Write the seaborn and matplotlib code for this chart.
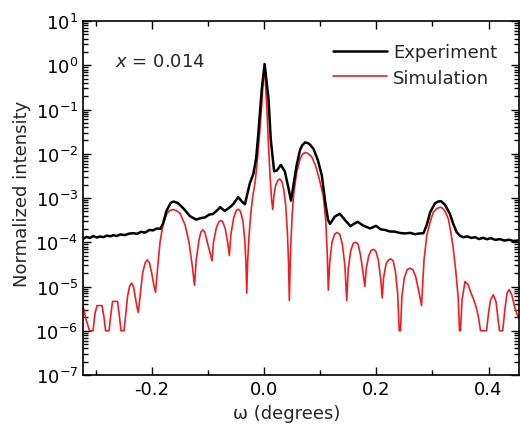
import numpy as np
import seaborn as sns
from matplotlib import pyplot as plt
from matplotlib.ticker import LogLocator, MultipleLocator, NullFormatter

# experiment (black)
exp_omega = [
    -0.322, -0.316, -0.310, -0.304, -0.298, -0.292, -0.286, -0.280, -0.274, -0.268,
    -0.263, -0.256, -0.248, -0.241, -0.233, -0.226, -0.219, -0.212, -0.204, -0.198,
    -0.191, -0.185, -0.180, -0.174, -0.167, -0.164, -0.161, -0.157, -0.153, -0.144,
    -0.132, -0.121, -0.113, -0.105, -0.098, -0.091, -0.084, -0.078, -0.070, -0.062,
    -0.055, -0.046, -0.040, -0.034, -0.030, -0.025, -0.019, -0.014, -0.010, -0.004,
    0.001, 0.004, 0.008, 0.012, 0.018, 0.023, 0.030, 0.037, 0.043, 0.048,
    0.052, 0.058, 0.064, 0.068, 0.073, 0.078, 0.082, 0.088, 0.096, 0.103,
    0.109, 0.114, 0.1175, 0.126, 0.135, 0.144, 0.154, 0.160, 0.167, 0.176,
    0.189, 0.1995, 0.208, 0.2155, 0.224, 0.233, 0.242, 0.251, 0.260, 0.269,
    0.277, 0.284, 0.290, 0.296, 0.3045, 0.310, 0.315, 0.322, 0.331, 0.337,
    0.343, 0.349, 0.355, 0.362, 0.369, 0.376, 0.383, 0.390, 0.397, 0.404,
    0.412, 0.420, 0.428, 0.436, 0.444, 0.454,
]
exp_intensity = [
    1.20e-4, 1.32e-4, 1.25e-4, 1.38e-4, 1.28e-4, 1.35e-4, 1.30e-4, 1.42e-4, 1.36e-4, 1.45e-4,
    1.38e-4, 1.50e-4, 1.45e-4, 1.56e-4, 1.60e-4, 1.55e-4, 1.72e-4, 1.65e-4, 1.90e-4, 1.85e-4,
    2.05e-4, 2.00e-4, 2.6e-4, 5.0e-4, 7.5e-4, 8.1e-4, 8.3e-4, 8.0e-4, 7.6e-4, 5.9e-4,
    3.9e-4, 3.25e-4, 3.5e-4, 3.65e-4, 4.2e-4, 4.35e-4, 5.2e-4, 6.2e-4, 5.1e-4, 6.0e-4,
    7.2e-4, 1.05e-3, 8.5e-4, 7.2e-4, 1.2e-3, 2.2e-3, 3.5e-3, 8.0e-3, 3.0e-2, 2.9e-1,
    1.07, 5.0e-1, 1.7e-1, 2.1e-2, 4.0e-3, 4.2e-3, 5.6e-3, 4.0e-3, 1.8e-3, 8.7e-4,
    1.8e-3, 5.4e-3, 1.2e-2, 1.55e-2, 1.8e-2, 1.75e-2, 1.6e-2, 1.3e-2, 7.1e-3, 3.2e-3,
    8.0e-4, 3.2e-4, 2.6e-4, 3.8e-4, 4.4e-4, 3.2e-4, 2.3e-4, 2.6e-4, 2.9e-4, 2.4e-4,
    2.05e-4, 2.35e-4, 1.95e-4, 1.9e-4, 1.75e-4, 1.74e-4, 1.62e-4, 1.58e-4, 1.63e-4, 1.52e-4,
    1.58e-4, 1.6e-4, 2.5e-4, 4.8e-4, 7.6e-4, 8.3e-4, 8.5e-4, 7.1e-4, 4.4e-4, 2.6e-4,
    1.7e-4, 1.4e-4, 1.3e-4, 1.36e-4, 1.25e-4, 1.30e-4, 1.18e-4, 1.26e-4, 1.17e-4, 1.24e-4,
    1.13e-4, 1.18e-4, 1.09e-4, 1.14e-4, 1.07e-4, 1.10e-4,
]

# simulation (red)
sim_omega = [
    -0.3224, -0.3170, -0.3108, -0.3045, -0.3010, -0.2974, -0.2885, -0.2849,
    -0.2823, -0.2760, -0.2725, -0.2698, -0.2609, -0.2573, -0.2547, -0.2493,
    -0.2466, -0.2430, -0.2395, -0.2360, -0.2325, -0.2295, -0.2262, -0.2239,
    -0.2208, -0.2162, -0.2118, -0.2080, -0.2040, -0.2000, -0.1958, -0.1932,
    -0.1897, -0.1852, -0.1799, -0.1728, -0.1680, -0.1621, -0.1560, -0.1496,
    -0.1407, -0.1336, -0.1282, -0.1238, -0.1207, -0.1160, -0.1125, -0.1090,
    -0.1055, -0.1010, -0.0957, -0.0926, -0.0900, -0.0850, -0.0805, -0.0770,
    -0.0735, -0.0690, -0.0645, -0.0618, -0.0590, -0.0540, -0.0495, -0.0458,
    -0.0420, -0.0375, -0.0340, -0.0322, -0.0308, -0.0290, -0.0265, -0.0235,
    -0.0200, -0.0160, -0.0130, -0.0102, -0.0070, -0.0041, -0.0015, 0.0005,
    0.0025, 0.0048, 0.0077, 0.0107, 0.0135, 0.0155, 0.0175, 0.0205,
    0.0245, 0.0280, 0.0315, 0.0350, 0.0385, 0.0415, 0.0435, 0.0451,
    0.0470, 0.0500, 0.0530, 0.0582, 0.0641, 0.0690, 0.0740, 0.0790,
    0.0850, 0.0920, 0.0990, 0.1056, 0.1100, 0.1125, 0.1145, 0.1170,
    0.1210, 0.1260, 0.1305, 0.1350, 0.1395, 0.1440, 0.1473, 0.1500,
    0.1545, 0.1590, 0.1630, 0.1675, 0.1720, 0.1770, 0.1795, 0.1820,
    0.1865, 0.1910, 0.1950, 0.1990, 0.2035, 0.2080, 0.2105, 0.2130,
    0.2175, 0.2220, 0.2258, 0.2300, 0.2340, 0.2380, 0.2408, 0.2431,
    0.2455, 0.2500, 0.2550, 0.2600, 0.2650, 0.2700, 0.2755, 0.2805,
    0.2850, 0.2898, 0.2956, 0.3015, 0.3080, 0.3143, 0.3185, 0.3223,
    0.3282, 0.3330, 0.3371, 0.3419, 0.3460, 0.3481, 0.3499, 0.3526,
    0.3580, 0.3633, 0.3687, 0.3731, 0.3776, 0.3820, 0.3856, 0.3963,
    0.3998, 0.4034, 0.4084, 0.4132, 0.4168, 0.4194, 0.4251, 0.4292,
    0.4328, 0.4367, 0.4416, 0.4469, 0.4528,
]
sim_intensity = [
    3.6e-6, 1.8e-6, 1.0e-6, 1.0e-6, 2.5e-6, 3.7e-6, 3.7e-6, 2.0e-6,
    1.0e-6, 1.0e-6, 2.5e-6, 4.6e-6, 4.6e-6, 2.0e-6, 1.0e-6, 1.0e-6,
    2.2e-6, 6.0e-6, 1.0e-5, 1.2e-5, 1.0e-5, 6.0e-6, 3.4e-6, 2.6e-6,
    6.0e-6, 2.0e-5, 3.4e-5, 4.0e-5, 3.4e-5, 2.0e-5, 1.0e-5, 7.4e-6,
    2.5e-5, 1.0e-4, 2.5e-4, 4.5e-4, 5.2e-4, 5.5e-4, 5.2e-4, 4.5e-4,
    2.5e-4, 1.0e-4, 3.2e-5, 1.07e-5, 4.0e-5, 1.1e-4, 1.7e-4, 1.9e-4,
    1.7e-4, 1.0e-4, 5.5e-5, 3.8e-5, 1.0e-4, 2.1e-4, 2.9e-4, 3.1e-4,
    2.9e-4, 2.0e-4, 9.5e-5, 5.0e-5, 1.5e-4, 3.6e-4, 5.2e-4, 5.6e-4,
    5.0e-4, 3.0e-4, 1.0e-4, 3.5e-5, 7.1e-6, 4.0e-5, 1.5e-4, 4.5e-4,
    1.1e-3, 2.2e-3, 5.0e-3, 1.26e-2, 4.0e-2, 0.123, 0.45, 0.76,
    0.40, 0.123, 1.8e-2, 3.2e-3, 9.0e-4, 5.5e-4, 1.1e-3, 1.9e-3,
    2.5e-3, 2.7e-3, 2.4e-3, 1.6e-3, 7.0e-4, 1.8e-4, 4.0e-5, 4.8e-6,
    5.0e-5, 4.0e-4, 1.3e-3, 3.8e-3, 7.6e-3, 1.0e-2, 1.07e-2, 1.0e-2,
    8.5e-3, 5.3e-3, 2.5e-3, 1.1e-3, 3.0e-4, 6.0e-5, 8.3e-6, 3.5e-5,
    1.0e-4, 1.55e-4, 1.66e-4, 1.5e-4, 9.0e-5, 3.0e-5, 4.8e-6, 2.5e-5,
    6.5e-5, 9.5e-5, 1.0e-4, 9.0e-5, 5.0e-5, 1.8e-5, 1.0e-5, 2.5e-5,
    5.0e-5, 6.6e-5, 6.9e-5, 6.3e-5, 4.0e-5, 1.4e-5, 5.5e-6, 1.6e-5,
    3.3e-5, 4.0e-5, 4.2e-5, 3.8e-5, 2.2e-5, 7.0e-6, 1.0e-6, 1.0e-6,
    6.0e-6, 1.6e-5, 2.4e-5, 2.6e-5, 2.4e-5, 1.7e-5, 8.0e-6, 3.7e-6,
    4.0e-5, 1.4e-4, 2.8e-4, 4.8e-4, 5.8e-4, 6.2e-4, 5.8e-4, 5.0e-4,
    3.4e-4, 1.6e-4, 7.1e-5, 2.0e-5, 5.2e-6, 1.0e-6, 1.0e-6, 5.0e-6,
    1.3e-5, 1.1e-5, 7.1e-6, 5.2e-6, 3.5e-6, 2.0e-6, 1.0e-6, 1.0e-6,
    2.5e-6, 5.0e-6, 6.5e-6, 4.5e-6, 1.8e-6, 1.0e-6, 1.0e-6, 3.2e-6,
    7.1e-6, 8.5e-6, 6.3e-6, 3.2e-6, 2.0e-6,
]

sns.set_style("ticks")
plt.rcParams['font.family'] = ['DejaVu Sans']
plt.rcParams['axes.unicode_minus'] = False

fig = plt.figure(figsize=(5.2, 4.31), dpi=100)
ax = fig.add_axes([83 / 520, 1 - 376 / 431, 436 / 520, 354 / 431])

sns.lineplot(x=sim_omega, y=sim_intensity, color='#f01e23', lw=1.2,
             label='Simulation', ax=ax, estimator=None, sort=False)
sns.lineplot(x=exp_omega, y=exp_intensity, color='black', lw=1.8,
             label='Experiment', ax=ax, estimator=None, sort=False)

ax.set_yscale('log')
ax.set_ylim(1e-7, 10)
ax.set_xlim(-0.3224, 0.4541)
ax.xaxis.set_major_locator(MultipleLocator(0.2))
ax.xaxis.set_minor_locator(MultipleLocator(0.1))
ax.yaxis.set_major_locator(LogLocator(base=10, numticks=20))
ax.yaxis.set_minor_locator(LogLocator(base=10, subs=np.arange(2, 10), numticks=20))
ax.yaxis.set_minor_formatter(NullFormatter())
ax.tick_params(which='both', direction='in', top=True, right=True,
               labelsize=13, width=1, colors='black')
ax.tick_params(which='major', length=6)
ax.tick_params(which='minor', length=3.5)
for s in ax.spines.values():
    s.set_linewidth(1.2)
    s.set_color('black')

ax.set_xlabel('ω (degrees)', fontsize=13)
ax.xaxis.set_label_coords(0.467, -0.083)
ax.set_ylabel('Normalized intensity', fontsize=13)
ax.yaxis.set_label_coords(-0.12, 0.514)

ax.text(0.073, 0.887, r'$x$ = 0.014', transform=ax.transAxes,
        fontsize=13, va='center', ha='left')

handles, labels = ax.get_legend_handles_labels()
ax.legend(handles[::-1], labels[::-1], loc='upper left', frameon=False,
          fontsize=13, handlelength=3, handletextpad=0.35, labelspacing=0.4,
          borderpad=0, borderaxespad=0, bbox_to_anchor=(0.573, 0.937))

fig.savefig('out.png', dpi=100)
